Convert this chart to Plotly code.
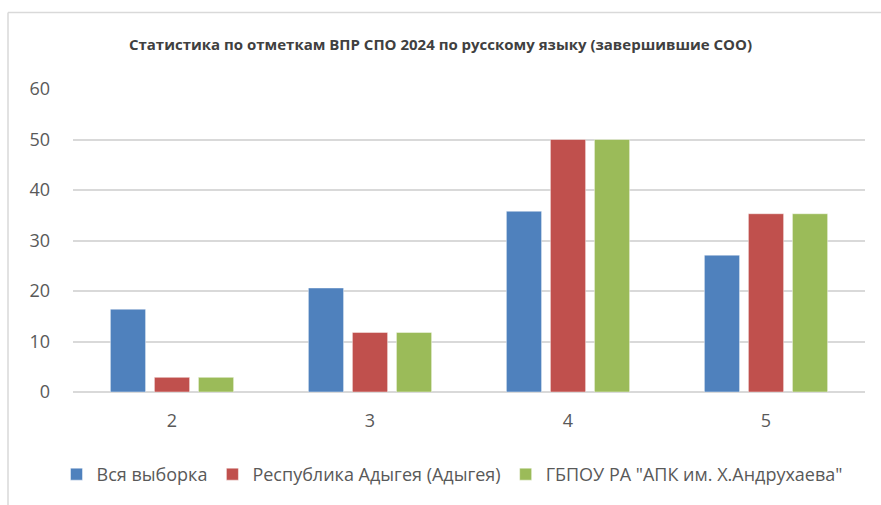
import plotly.graph_objects as go

categories = ["2", "3", "4", "5"]
series_names = ["Вся выборка", "Республика Адыгея (Адыгея)", 'ГБПОУ РА "АПК им. Х.Андрухаева"']
vals_all = [16.4, 20.6, 35.8, 27.1]
vals_region = [2.9, 11.8, 50.0, 35.3]
vals_college = [2.9, 11.8, 50.0, 35.3]
colors = ["#4F81BD", "#C0504D", "#9BBB59"]
y_ticks = [0, 10, 20, 30, 40, 50, 60]
title = "Статистика по отметкам ВПР СПО 2024 по русскому языку (завершившие СОО)"

fig = go.Figure()
for name, vals, c in zip(series_names, [vals_all, vals_region, vals_college], colors):
    fig.add_trace(go.Bar(x=categories, y=vals, name=name,
                         marker=dict(color=c, line=dict(color="rgba(255,255,255,0.45)", width=1))))

L, R, T, B = 73, 16, 89, 111
W, H = 881, 505
pw, ph = W - L - R, H - T - B

def px_x(p):
    return (p - L) / pw

def px_y(p):
    return (H - B - p) / ph

fig.update_layout(
    width=W, height=H,
    margin=dict(l=L, r=R, t=T, b=B),
    paper_bgcolor="white", plot_bgcolor="white",
    barmode="group", bargap=0.333, bargroupgap=0.2,
    font=dict(family="Open Sans", color="#595959"),
    title=dict(text="<b>" + title + "</b>", x=0.5, xanchor="center", y=1 - 45 / H, yanchor="middle",
               font=dict(size=15, color="#404040", family="Open Sans")),
    xaxis=dict(tickfont=dict(size=18, color="#595959"), showline=False, showgrid=False, ticks="",
               ticklabelstandoff=16),
    yaxis=dict(range=[0, 60], tickvals=y_ticks, tickfont=dict(size=18, color="#595959"),
               showgrid=True, gridcolor="#d9d9d9", gridwidth=1.5, zeroline=True,
               zerolinecolor="#d9d9d9", zerolinewidth=1.5, ticks="", ticklen=0, ticklabelstandoff=22),
    legend=dict(orientation="h", x=px_x(452), xanchor="center", y=px_y(477), yanchor="middle",
                font=dict(size=18, color="#595959"), itemwidth=30, traceorder="normal"),
    showlegend=True,
)

fig.add_shape(type="line", xref="paper", yref="paper", x0=px_x(8), x1=px_x(W + 5), y0=px_y(12), y1=px_y(12),
              line=dict(color="#d9d9d9", width=1.5))
fig.add_shape(type="line", xref="paper", yref="paper", x0=px_x(8), x1=px_x(8), y0=px_y(12), y1=px_y(H + 5),
              line=dict(color="#d9d9d9", width=1.5))

fig.write_html("out.html", config={"displayModeBar": False},
               post_script="document.body.style.margin='0';")
